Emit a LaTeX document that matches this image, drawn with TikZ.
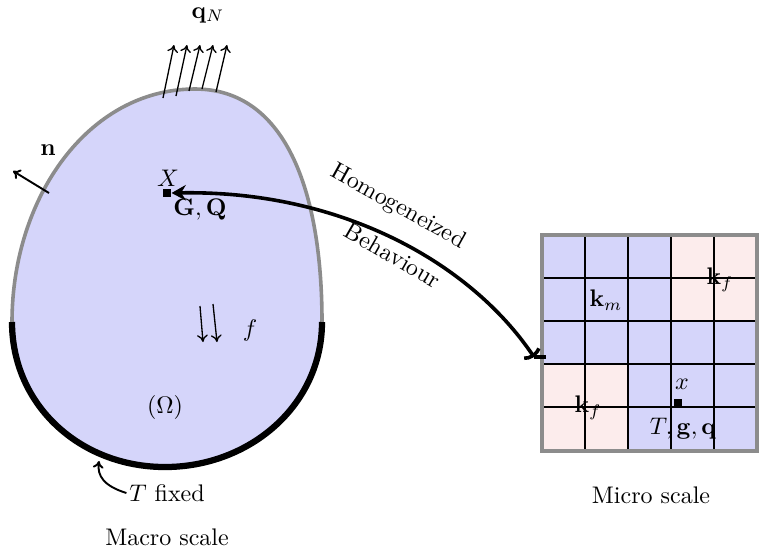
\documentclass[tikz,border=0pt]{standalone}
\usetikzlibrary{arrows.meta}
\definecolor{lav}{RGB}{213,213,250}
\definecolor{pinkc}{RGB}{252,236,236}
\definecolor{edgegray}{RGB}{140,140,140}
\begin{document}
\begin{tikzpicture}[x=0.4167pt,y=-0.4167pt,
  thinarrow/.style={line width=0.55pt,-{To[length=3pt,width=4.5pt]}},
  gridline/.style={line width=0.6pt,black},
  marker/.style={fill=black,inner sep=0pt,minimum size=3.4pt},
  lbl/.style={inner sep=1pt}]
\useasboundingbox (0,0) rectangle (760,551);
% macro body
\fill[lav] (12,322) .. controls (12,405) and (80,467) .. (165,467)
  .. controls (250,467) and (322,405) .. (322,322)
  .. controls (322,190) and (285,89) .. (195,89)
  .. controls (88,89) and (12,198) .. (12,322) -- cycle;
\draw[edgegray,line width=1.5pt] (322,322) .. controls (322,190) and (285,89) .. (195,89)
  .. controls (88,89) and (12,198) .. (12,322);
\draw[black,line width=2.6pt] (12,322) .. controls (12,405) and (80,467) .. (165,467)
  .. controls (250,467) and (322,405) .. (322,322);
% flux arrows
\node[lbl] (qN) at (208,15) {$\mathbf{q}_N$};
\foreach \bx/\by [count=\i] in {163/98,176/96,189/91,202/89,216/92}{
  \coordinate (qb\i) at (\bx,\by);
  \coordinate (qt\i) at ({\bx+11},45);
  \draw[thinarrow] (qb\i) -- (qt\i);
}
% normal
\coordinate (nb) at (49,193);
\coordinate (nt) at (13,171);
\draw[thinarrow,line width=0.8pt] (nb) -- (nt);
\node[lbl] (n) at (48,150) {$\mathbf{n}$};
% point X
\node[marker] (Xsq) at (167,193) {};
\node[lbl] (X) at (168,178) {$X$};
\node[lbl] (GQ) at (200,210) {$\mathbf{G},\mathbf{Q}$};
% body force
\coordinate (fb1) at (200,306);
\coordinate (ft1) at (203,342);
\coordinate (fb2) at (213,304);
\coordinate (ft2) at (217,342);
\draw[thinarrow] (fb1) -- (ft1);
\draw[thinarrow] (fb2) -- (ft2);
\node[lbl] (f) at (250,330) {$f$};
\node[lbl] (Om) at (165,407) {$(\Omega)$};
% T fixed
\node[lbl] (Tf) at (167,493) {$T$ fixed};
\coordinate (tfix) at (99,461);
\draw[thinarrow,line width=0.8pt] (Tf.west) .. controls (104,486) and (97,476) .. (tfix);
\node[lbl] (macro) at (167,537) {Macro scale};
% micro grid
\fill[lav] (542,235) rectangle (757,451);
\fill[pinkc] (671,235) rectangle (757,321);
\fill[pinkc] (542,364) rectangle (628,451);
\foreach \x in {585,628,671,714} \draw[gridline] (\x,235) -- (\x,451);
\foreach \y in {278,321,364,407} \draw[gridline] (542,\y) -- (757,\y);
\node[draw=edgegray,line width=1.6pt,inner sep=0pt,minimum width=89.6pt,minimum height=90pt] (micro) at (649.5,343) {};
\node[lbl] (km) at (606,300) {$\mathbf{k}_m$};
\node[lbl] (kf1) at (720,280) {$\mathbf{k}_f$};
\node[lbl] (kf2) at (588,408) {$\mathbf{k}_f$};
\node[marker] (xsq) at (678,403) {};
\node[lbl] (x) at (682,384) {$x$};
\node[lbl] (Tgq) at (683,429) {$T,\mathbf{g},\mathbf{q}$};
\node[lbl] (microl) at (651,495) {Micro scale};
% homogenization arrow
\coordinate (hs) at (534,357);
\draw[line width=1.5pt] (hs) -- (hs -| micro.west) -- ++(6,0);
\draw[line width=1.5pt,{Parenthesis[length=3pt,width=10pt]}-{Stealth[length=6pt,width=6.5pt,inset=2pt]}]
  (hs) .. controls (470,262) and (340,190) .. (Xsq.east);
\node[lbl,rotate=-29] (hom) at (398,207) {Homogeneized};
\node[lbl,rotate=-30] (beh) at (393,255) {Behaviour};
\end{tikzpicture}
\end{document}
